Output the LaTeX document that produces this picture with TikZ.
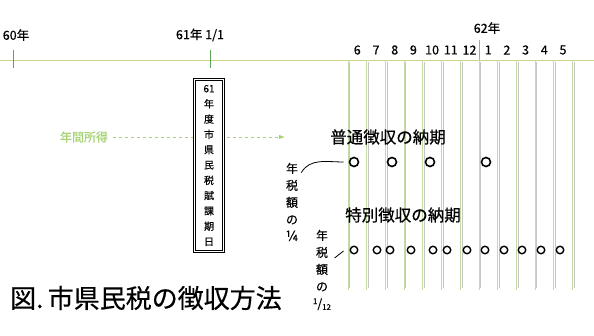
\documentclass[tikz,border=0pt]{standalone}
\usepackage{fontspec}
\setmainfont{Noto Sans CJK JP}[FakeBold=0.5]
\usetikzlibrary{arrows.meta}
\definecolor{timegreen}{RGB}{200,212,130}
\definecolor{monthgreen}{RGB}{195,220,165}
\definecolor{incomegreen}{RGB}{165,210,115}
\newcommand{\onetwelfth}{\raisebox{0.6ex}{\fontsize{8}{8}\selectfont 1}/\raisebox{-0.3ex}{\fontsize{8}{8}\selectfont 12}}
\begin{document}
\begin{tikzpicture}[x=1pt,y=-1pt]
\useasboundingbox (0,0) rectangle (594,335);
\tikzset{
	lbl/.style={inner sep=0pt,font=\fontsize{12.5}{14}\selectfont},
	vlbl/.style={inner sep=0pt,align=center,font=\fontsize{12}{17}\selectfont},
	futsu/.style={circle,draw,line width=1.6pt,inner sep=0pt,minimum size=9pt},
	tokubetsu/.style={circle,draw,line width=1.4pt,inner sep=0pt,minimum size=7.5pt},
}

% timeline
\draw[timegreen,thick] (0,60) -- (594,60);
\draw[gray!70!green] (13,50) -- (13,68);
\draw[gray!70!green] (210,50) -- (210,68);
\node[lbl] (y60) at (16,35) {60年};
\node[lbl] (y61) at (200,35) {61年 1/1};

% months
\foreach \i in {0,...,12}{
	\draw[monthgreen,thick] (348+\i*18.7,60) -- (348+\i*18.7,290);
	\draw[gray!45,thin] (349.5+\i*18.7,62) -- (349.5+\i*18.7,288);}
\draw[gray!70] (479,40) -- (479,60);
\node[lbl] (y62) at (487,28) {62年};
\foreach \m [count=\i from 0] in {6,7,8,9,10,11,12,1,2,3,4,5}
	\node[lbl] (m\i) at (357.3+\i*18.7,50) {\m};

% income
\node[inner sep=0pt,text=incomegreen,font=\fontsize{12}{14}\selectfont] (inc) at (84,137) {年間所得};
\coordinate (incend) at (285,137);
\draw[incomegreen,thick,dashed,-{Latex[length=6pt]}] ([xshift=5pt]inc.east) -- (incend);

% assessment date
\node[draw,line width=1.1pt,fill=white,minimum width=31pt,minimum height=174pt,inner sep=0pt,align=center,font=\fontsize{10}{15.3}\selectfont] (kijitsu) at (209,165.5)
	{61\\年\\度\\市\\県\\民\\税\\賦\\課\\期\\日};
\draw[thin] ([shift={(2.5,2.5)}]kijitsu.north west) rectangle ([shift={(-2.5,-2.5)}]kijitsu.south east);

% ordinary collection
\node[inner sep=0pt,font=\fontsize{16.5}{18}\selectfont] (futsulbl) at (388,137) {普通徴収の納期};
\foreach \x [count=\i] in {354,392,430,486}
	\node[futsu] (c\i) at (\x,162) {};
\node[vlbl] (quarter) at (292,202) {年\\税\\額\\の\\{\fontsize{14}{14}\selectfont ¼}};
\draw[thick] ([shift={(3,10)}]quarter.north east) to[out=60,in=180] ([xshift=-5pt]c1.west);

% special collection
\node[inner sep=0pt,font=\fontsize{16.5}{18}\selectfont] (tokulbl) at (403,215) {特別徴収の納期};
\foreach \x [count=\i] in {354,377,390,411,433,447,467,485,504,522,541,560}
	\node[tokubetsu] (s\i) at (\x,250) {};
\node[vlbl] (twelfth) at (322,270) {年\\税\\額\\の\\\onetwelfth};
\draw[thick] ([shift={(-15,8)}]s1.west) -- ([shift={(-6,1)}]s1.west);

% title
\node[inner sep=0pt,anchor=west,font=\fontsize{26}{30}\selectfont] (title) at (10,298) {図.\,市県民税の徴収方法};
\end{tikzpicture}
\end{document}
